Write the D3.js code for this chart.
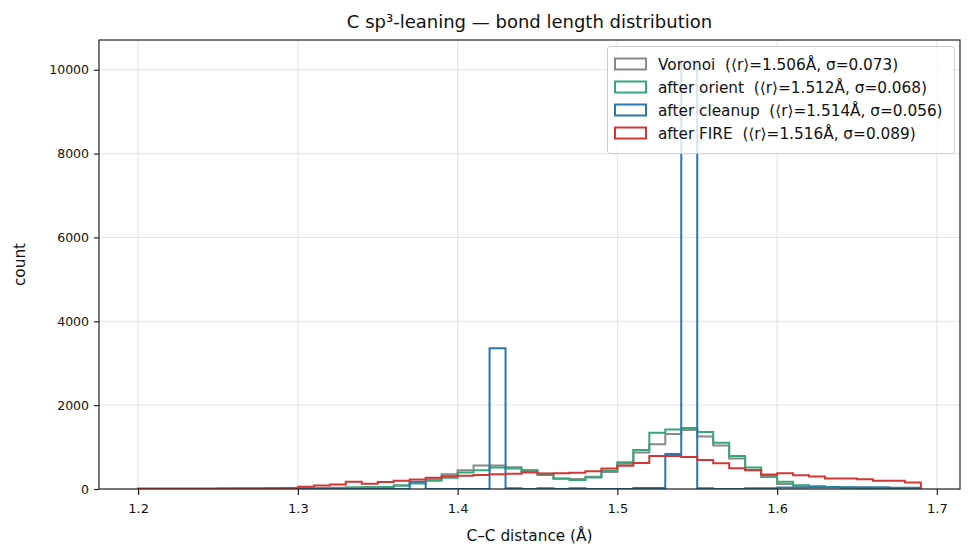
<!DOCTYPE html>
<html>
<head>
<meta charset="utf-8">
<script src="https://cdn.jsdelivr.net/npm/d3@7/dist/d3.min.js"></script>
<style>
  html, body { margin: 0; padding: 0; background: #fff; }
  svg { display: block; font-family: "DejaVu Sans", sans-serif; }
  text { white-space: pre; }
</style>
</head>
<body>
<svg id="chart" width="974" height="557"></svg>
<script>
// ---- data ----
const binStart = 1.20;
const binWidth = 0.01;
// bin left edges 1.20 ... 1.68 (49 bins)
const voronoi = [5,5,5,8,8,10,10,12,15,18,
  20,22,28,35,40,50,90,150,230,350,
  450,560,560,520,455,365,250,240,290,405,
  600,870,1070,1310,1410,1250,1040,725,455,285,
  120,80,65,50,40,35,30,25,20];
const orient = [5,5,6,7,8,9,10,12,14,16,
  18,20,25,35,40,48,80,130,195,270,
  395,450,510,490,425,335,245,215,275,435,
  640,930,1340,1420,1455,1360,1105,787,515,320,
  175,92,60,45,38,32,28,24,20];
const cleanup = [0,0,0,0,0,0,0,0,0,0,
  0,0,0,0,0,0,0,170,0,0,
  0,0,3355,20,0,20,0,20,0,0,
  0,25,25,835,10200,20,0,0,20,20,
  35,35,40,40,35,35,35,30,30];
const fire = [3,3,4,5,6,8,10,12,15,20,
  56,82,108,170,125,167,195,225,270,305,
  315,335,350,365,393,370,378,390,425,490,
  553,620,785,785,765,690,616,497,449,346,
  378,330,298,250,250,235,195,195,155];

const seriesNames = ["Voronoi  (⟨r⟩=1.506Å, σ=0.073)",
  "after orient  (⟨r⟩=1.512Å, σ=0.068)",
  "after cleanup  (⟨r⟩=1.514Å, σ=0.056)",
  "after FIRE  (⟨r⟩=1.516Å, σ=0.089)"];
const seriesColors = ["#888888", "#34a877", "#2878b1", "#d43636"];
const xTicks = [1.2, 1.3, 1.4, 1.5, 1.6, 1.7];
const yTicks = [0, 2000, 4000, 6000, 8000, 10000];

const series = [voronoi, orient, cleanup, fire];

// ---- layout ----
const svg = d3.select("#chart");
const L = 99, R = 960, T = 40, B = 489;
const nBins = voronoi.length;
const xMin = binStart, xMax = binStart + binWidth * nBins;
const xPad = (xMax - xMin) * 0.05;
const yMaxV = d3.max(series.flat()) * 1.05;

const x = d3.scaleLinear().domain([xMin - xPad, xMax + xPad]).range([L, R]);
const y = d3.scaleLinear().domain([0, yMaxV]).range([B, T]);

// grid
const grid = svg.append("g");
grid.selectAll(".gx").data(xTicks).enter().append("line")
  .attr("x1", d => x(d)).attr("x2", d => x(d))
  .attr("y1", T).attr("y2", B)
  .attr("stroke", "#b0b0b0").attr("stroke-opacity", 0.35).attr("stroke-width", 1);
grid.selectAll(".gy").data(yTicks).enter().append("line")
  .attr("x1", L).attr("x2", R)
  .attr("y1", d => y(d)).attr("y2", d => y(d))
  .attr("stroke", "#b0b0b0").attr("stroke-opacity", 0.35).attr("stroke-width", 1);

// step histograms
svg.append("clipPath").attr("id", "clip").append("rect")
  .attr("x", L).attr("y", T).attr("width", R - L).attr("height", B - T);

function stepPath(vals) {
  const pts = [];
  pts.push([x(binStart), y(0)]);
  vals.forEach((v, i) => {
    const x0 = binStart + binWidth * i, x1 = binStart + binWidth * (i + 1);
    pts.push([x(x0), y(v)]);
    pts.push([x(x1), y(v)]);
  });
  pts.push([x(binStart + binWidth * vals.length), y(0)]);
  return d3.line()(pts);
}

const g = svg.append("g").attr("clip-path", "url(#clip)");
series.forEach((vals, k) => {
  g.append("path").attr("d", stepPath(vals))
    .attr("fill", "none").attr("stroke", seriesColors[k])
    .attr("stroke-width", 2).attr("stroke-linejoin", "miter");
});

// axes
const xAxis = d3.axisBottom(x).tickValues(xTicks).tickFormat(d3.format(".1f")).tickSize(6).tickPadding(9);
const yAxis = d3.axisLeft(y).tickValues(yTicks).tickFormat(d => String(d)).tickSize(5).tickPadding(5);
const gx = svg.append("g").attr("transform", `translate(0,${B})`).call(xAxis);
const gy = svg.append("g").attr("transform", `translate(${L},0)`).call(yAxis);
[gx, gy].forEach(a => {
  a.select(".domain").remove();
  a.selectAll(".tick line").attr("stroke", "#222").attr("stroke-width", 1.2);
  a.selectAll(".tick text").attr("fill", "#111").style("font-size", "12.5px")
    .style("font-family", "'DejaVu Sans', sans-serif");
});
gx.selectAll(".tick text").style("font-size", "13px");

// frame
svg.append("rect").attr("x", L).attr("y", T).attr("width", R - L).attr("height", B - T)
  .attr("fill", "none").attr("stroke", "#222").attr("stroke-width", 1.2);

// labels
svg.append("text").attr("x", (L + R) / 2).attr("y", 28).attr("text-anchor", "middle")
  .style("font-size", "18px").attr("fill", "#111").text("C sp³-leaning — bond length distribution");
svg.append("text").attr("x", (L + R) / 2).attr("y", 541).attr("text-anchor", "middle")
  .style("font-size", "15.3px").attr("fill", "#111").text("C–C distance (Å)");
svg.append("text").attr("transform", `translate(25,${(T + B) / 2}) rotate(-90)`).attr("text-anchor", "middle")
  .style("font-size", "15.3px").attr("fill", "#111").text("count");

// legend
const lg = svg.append("g");
lg.append("rect").attr("x", 607.5).attr("y", 46.5).attr("width", 347).attr("height", 107)
  .attr("rx", 3).attr("fill", "#fff").attr("fill-opacity", 0.8)
  .attr("stroke", "#cccccc").attr("stroke-width", 1);
seriesNames.forEach((name, k) => {
  const cy = 64 + k * 23;
  lg.append("rect").attr("x", 615).attr("y", cy - 5.5).attr("width", 31).attr("height", 11)
    .attr("fill", "none").attr("stroke", seriesColors[k]).attr("stroke-width", 2);
  lg.append("text").attr("x", 658).attr("y", cy + 5.5)
    .style("font-size", "15.3px").attr("fill", "#111").text(name);
});
</script>
</body>
</html>
